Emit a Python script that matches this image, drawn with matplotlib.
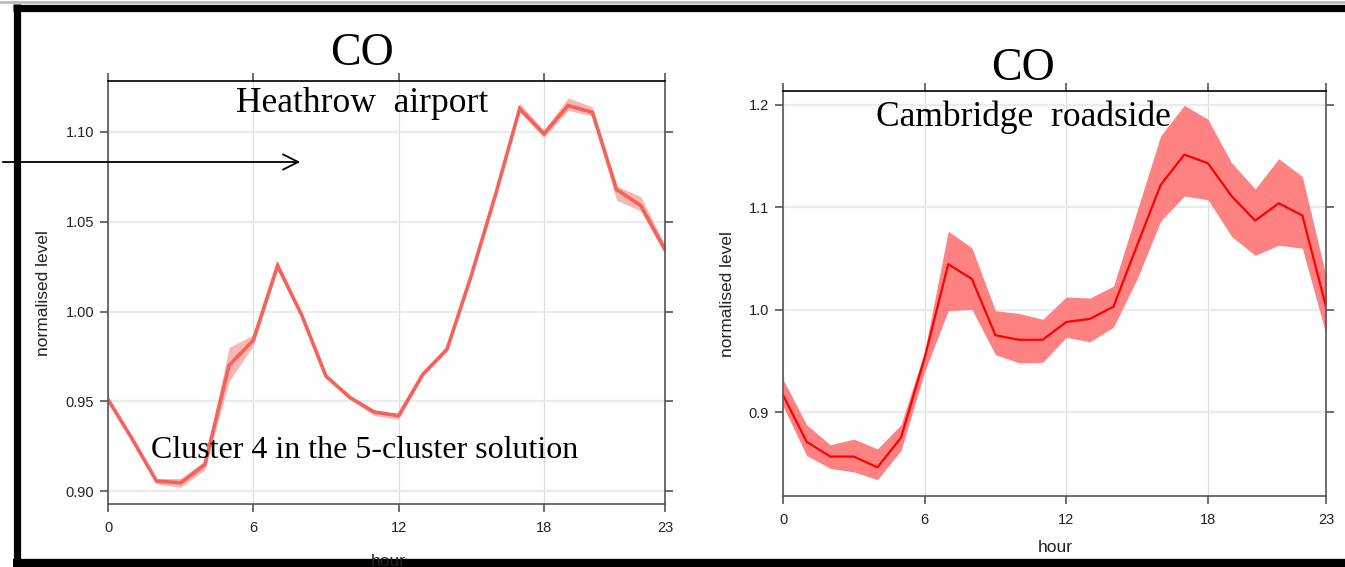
import matplotlib
matplotlib.use('Agg')
import matplotlib.pyplot as plt
from matplotlib.lines import Line2D
from matplotlib.patches import FancyArrowPatch
import numpy as np

W, H = 1345, 567

hours = list(range(24))
xticks = [0, 6, 12, 18, 23]

# Heathrow airport (cluster 4)
heathrow_mean = [0.951, 0.929, 0.9056, 0.9046, 0.9147, 0.970, 0.984, 1.0255, 0.998, 0.964, 0.952, 0.944,
                 0.942, 0.965, 0.979, 1.020, 1.065, 1.113, 1.099, 1.1147, 1.111, 1.068, 1.059, 1.0345]
heathrow_upper = [0.952, 0.930, 0.907, 0.907, 0.917, 0.980, 0.987, 1.028, 0.999, 0.965, 0.953, 0.945,
                  0.943, 0.966, 0.980, 1.021, 1.066, 1.116, 1.101, 1.119, 1.114, 1.070, 1.064, 1.037]
heathrow_lower = [0.949, 0.928, 0.904, 0.902, 0.912, 0.961, 0.981, 1.024, 0.997, 0.963, 0.951, 0.942,
                  0.940, 0.964, 0.978, 1.019, 1.064, 1.111, 1.097, 1.112, 1.109, 1.062, 1.056, 1.032]

# Cambridge roadside
cambridge_mean = [0.9167, 0.871, 0.8565, 0.8565, 0.846, 0.875, 0.953, 1.0445, 1.030, 0.975, 0.9706, 0.9706,
                  0.988, 0.991, 1.003, 1.063, 1.122, 1.1515, 1.143, 1.111, 1.087, 1.104, 1.092, 1.003]
cambridge_upper = [0.932, 0.8876, 0.868, 0.8736, 0.864, 0.8876, 0.9595, 1.0766, 1.0605, 0.999, 0.9963, 0.9906,
                   1.0124, 1.0114, 1.023, 1.0967, 1.170, 1.1997, 1.186, 1.1435, 1.118, 1.1475, 1.130, 1.033]
cambridge_lower = [0.906, 0.8575, 0.845, 0.8415, 0.834, 0.8625, 0.9395, 0.999, 1.0003, 0.956, 0.948, 0.9485,
                   0.973, 0.9686, 0.983, 1.030, 1.0866, 1.111, 1.1074, 1.0716, 1.053, 1.063, 1.060, 0.976]

plt.rcParams['font.family'] = ['Liberation Sans', 'DejaVu Sans']

fig = plt.figure(figsize=(W / 100, H / 100), dpi=100)


def px_axes(x0, y0, x1, y1):
    # pixel box (top-left origin) -> figure fraction
    return fig.add_axes([x0 / W, 1 - y1 / H, (x1 - x0) / W, (y1 - y0) / H])


def style_axes(ax, ylim, yticks, yticklabels):
    ax.set_xlim(0, 23)
    ax.set_ylim(*ylim)
    ax.set_xticks(xticks)
    ax.set_yticks(yticks)
    ax.set_yticklabels(yticklabels)
    ax.tick_params(direction='out', length=6, width=1.2, color='#555555',
                   labelsize=10.5, labelcolor='#222222', pad=4,
                   top=True, right=True, labeltop=False, labelright=False)
    ax.tick_params(axis='x', pad=6)
    for s in ['left', 'right', 'bottom']:
        ax.spines[s].set_color('#555555')
        ax.spines[s].set_linewidth(1.2)
    ax.spines['top'].set_color('black')
    ax.spines['top'].set_linewidth(1.2)
    ax.set_axisbelow(True)
    ax.grid(axis='y', color='#EBEBEB', linewidth=1.6)
    ax.grid(axis='x', color='#DDDDDD', linewidth=0.9)


# left panel
ax1 = px_axes(108, 81, 665, 504)
ax1.fill_between(hours, heathrow_lower, heathrow_upper, color='#F7B7B2', linewidth=0)
ax1.plot(hours, heathrow_mean, color='#F5625A', linewidth=2.6, solid_joinstyle='miter')
style_axes(ax1, (0.8928, 1.1284), [0.90, 0.95, 1.00, 1.05, 1.10],
           ['0.90', '0.95', '1.00', '1.05', '1.10'])

# right panel
ax2 = px_axes(783, 90.6, 1326, 496)
ax2.fill_between(hours, cambridge_lower, cambridge_upper, color='#FF8282', linewidth=0)
ax2.plot(hours, cambridge_mean, color='#FF0000', linewidth=1.6)
style_axes(ax2, (0.818, 1.214), [0.9, 1.0, 1.1, 1.2], ['0.9', '1.0', '1.1', '1.2'])


def ftext(x, y, s, **kw):
    fig.text(x / W, 1 - y / H, s, **kw)


serif = ['Liberation Serif', 'DejaVu Serif']
ftext(362, 65, 'CO', fontsize=33, family=serif, ha='center', va='baseline')
ftext(362, 112, 'Heathrow  airport', fontsize=25.5, family=serif, ha='center', va='baseline')
ftext(365, 458, 'Cluster 4 in the 5-cluster solution', fontsize=23, family=serif, ha='center', va='baseline')
ftext(1023, 80, 'CO', fontsize=33, family=serif, ha='center', va='baseline')
ftext(1023, 126, 'Cambridge  roadside', fontsize=25.5, family=serif, ha='center', va='baseline')

ftext(44, 293, 'normalised level', fontsize=12.5, rotation=90, ha='center', va='center', color='#222222')
ftext(728, 294, 'normalised level', fontsize=12.5, rotation=90, ha='center', va='center', color='#222222')
ftext(388, 561, 'hour', fontsize=12.5, ha='center', va='center', color='#222222')
ftext(1055, 547, 'hour', fontsize=12.5, ha='center', va='center', color='#222222')

# arrow
arrow = FancyArrowPatch((0, 1 - 162 / H), (303 / W, 1 - 162 / H), transform=fig.transFigure,
                        arrowstyle='->,head_length=11,head_width=5.5', color='black', linewidth=1.3)
fig.add_artist(arrow)

# frame of the slide
fig.add_artist(Line2D([0, 1], [1 - 1.5 / H] * 2, transform=fig.transFigure, color='#BBBBBB', linewidth=2))
fig.add_artist(Line2D([13 / W, 1], [1 - 7.5 / H] * 2, transform=fig.transFigure, color='black',
                      linewidth=5.2, solid_capstyle='butt'))
fig.add_artist(Line2D([16.5 / W] * 2, [0, 1 - 4 / H], transform=fig.transFigure, color='black',
                      linewidth=5.2, solid_capstyle='butt'))
fig.add_artist(Line2D([13 / W, 1], [1 - 563 / H] * 2, transform=fig.transFigure, color='black',
                      linewidth=6, solid_capstyle='butt'))

fig.savefig('out.png', dpi=100)
plt.close(fig)
